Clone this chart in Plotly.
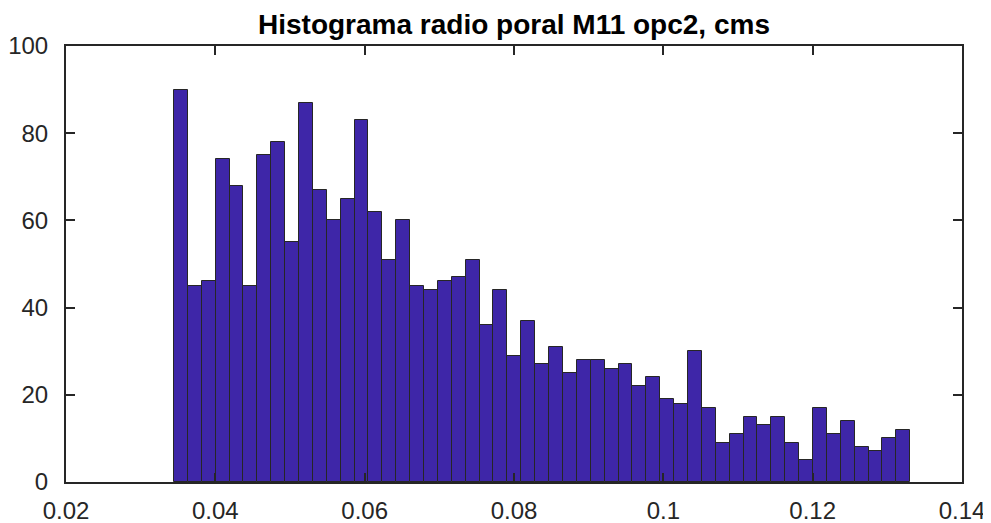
import plotly.graph_objects as go

title_text = "Histograma radio poral M11 opc2, cms"
counts = [90, 45, 46, 74, 68, 45, 75, 78, 55, 87, 67, 60, 65, 83, 62, 51, 60, 45,
          44, 46, 47, 51, 36, 44, 29, 37, 27, 31, 25, 28, 28, 26, 27, 22, 24, 19,
          18, 30, 17, 9, 11, 15, 13, 15, 9, 5, 17, 11, 14, 8, 7, 10, 12]
bin_start = 0.03446
bin_end = 0.13307
x_ticks = [0.02, 0.04, 0.06, 0.08, 0.1, 0.12, 0.14]
x_ticklabels = ["0.02", "0.04", "0.06", "0.08", "0.1", "0.12", "0.14"]
y_ticks = [0, 20, 40, 60, 80, 100]

n = len(counts)
bw = (bin_end - bin_start) / n
centers = [bin_start + bw * (i + 0.5) for i in range(n)]

fig = go.Figure(go.Bar(
    x=centers, y=counts, width=[bw] * n,
    marker=dict(color="rgb(62,38,168)", line=dict(color="#262626", width=1)),
    hoverinfo="x+y",
))

axis_common = dict(
    showline=True, linecolor="#262626", linewidth=2, mirror="ticks",
    ticks="inside", ticklen=9, tickwidth=2, tickcolor="#262626",
    showgrid=False, zeroline=False, automargin=False,
    tickfont=dict(family="Liberation Sans, Arial", size=24, color="#262626"),
)

# page body has an 8px margin; figure sized to fit the 991x523 window
W, H = 983, 515
fig.update_layout(
    width=W, height=H,
    margin=dict(l=58, r=29, t=38, b=41, autoexpand=False),
    paper_bgcolor="white", plot_bgcolor="white",
    bargap=0, showlegend=False,
    title=dict(text="<b>" + title_text + "</b>", x=506 / W, xanchor="center",
               y=1 - 16 / H, yanchor="middle",
               font=dict(family="Liberation Sans, Arial", size=28, color="black")),
    xaxis=dict(range=[0.02, 0.14], tickvals=x_ticks, ticktext=x_ticklabels,
               ticklabelstandoff=6, **axis_common),
    yaxis=dict(range=[0, 100], tickvals=y_ticks, ticklabelstandoff=11, **axis_common),
)

fig.write_html("out.html")
